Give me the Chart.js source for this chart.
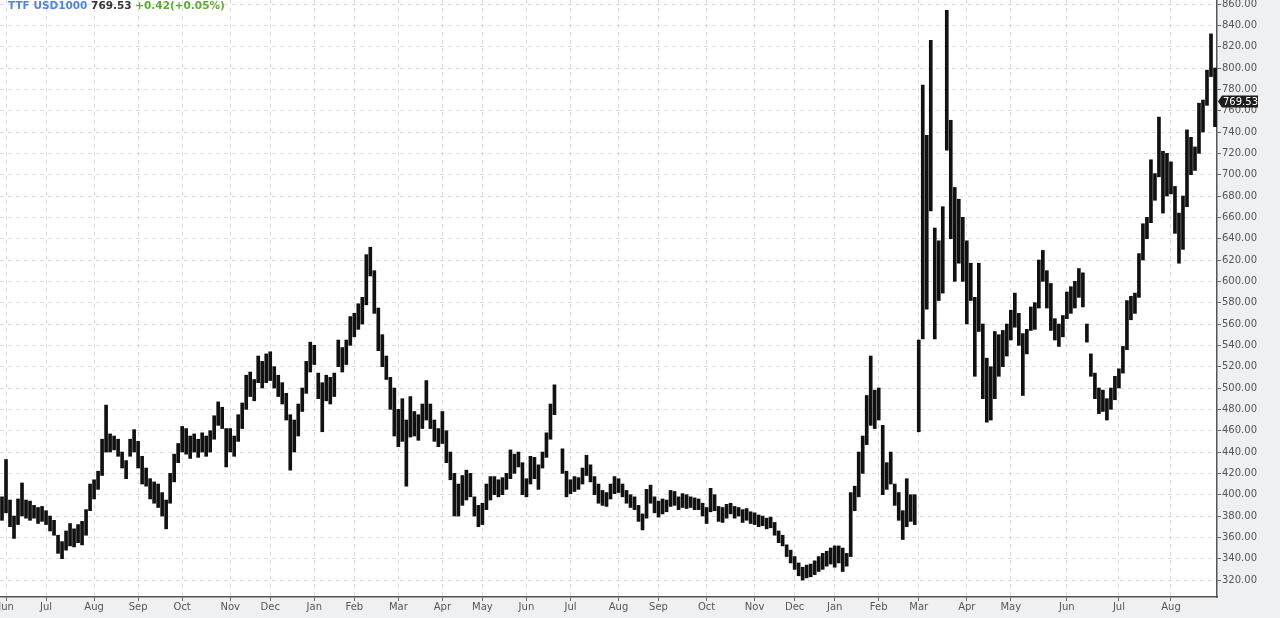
<!DOCTYPE html>
<html>
<head>
<meta charset="utf-8">
<script src="https://cdn.jsdelivr.net/npm/chart.js@4"></script>
<style>
  html, body { margin: 0; padding: 0; background: #eef0f2; overflow: hidden; }
  #c { display: block; }
</style>
</head>
<body>
<canvas id="c" width="1280" height="618"></canvas>
<script>
const symbolName = 'TTF USD1000';
const lastPrice = 769.53;
const changeText = '+0.42(+0.05%)';

const monthLabels = ['Jun','Jul','Aug','Sep','Oct','Nov','Dec','Jan','Feb','Mar','Apr','May','Jun','Jul','Aug','Sep','Oct','Nov','Dec','Jan','Feb','Mar','Apr','May','Jun','Jul','Aug'];
const monthSlots  = [1,11,23,34,45,57,67,78,88,99,110,120,131,142,154,164,176,188,198,208,219,229,241,252,266,279,292];

const yTicks = [320,340,360,380,400,420,440,460,480,500,520,540,560,580,600,620,640,660,680,700,720,740,760,780,800,820,840,860];

const lows = [
 376,383,370,359,372,380,378,376,378,373,
 375,372,366,362,345,340,348,352,351,355,
 353,362,385,396,405,418,440,440,442,436,
 425,415,436,440,425,410,408,396,392,388,
 380,368,392,412,430,440,438,434,440,435,
 440,436,440,452,465,462,426,440,436,450,
 462,480,492,488,505,500,505,507,500,492,
 485,470,423,440,455,478,495,515,522,490,
 459,488,485,492,520,515,522,540,548,555,
 560,578,605,570,535,520,508,480,455,445,
 450,408,454,455,451,462,470,462,450,445,
 448,430,414,380,380,390,395,398,380,370,
 372,386,395,400,398,400,405,415,420,426,
 400,398,410,415,405,425,435,452,475,null,
 420,398,401,403,405,410,418,412,400,392,
 390,389,396,401,402,398,392,388,386,375,
 367,378,392,383,379,382,384,389,390,386,
 388,387,388,386,386,380,373,384,385,375,
 374,378,382,378,380,374,376,373,372,370,
 371,368,369,362,355,352,342,336,330,324,
 320,322,323,325,328,330,333,335,332,336,
 328,333,342,385,398,420,447,465,462,470,
 400,405,410,390,376,358,370,375,372,459,
 546,574,666,546,582,589,723,640,600,617,
 600,560,582,511,553,490,468,470,490,511,
 520,530,545,557,540,493,532,554,555,575,
 600,575,554,545,539,548,565,570,575,585,
 576,543,511,490,476,478,470,480,489,500,
 514,536,564,570,585,620,640,655,676,698,
 664,680,682,645,617,630,670,700,704,720,
 740,765,792,745
];

const highs = [
 398,433,395,380,396,411,395,394,390,388,
 389,385,380,376,362,356,366,373,368,372,
 375,386,410,414,422,452,484,457,455,452,
 440,432,452,461,450,436,425,415,412,410,
 402,395,420,438,448,464,462,455,457,452,
 458,455,460,474,487,482,462,462,455,475,
 486,512,515,508,530,525,532,534,520,512,
 505,495,475,470,485,500,525,543,540,514,
 505,512,510,514,545,538,545,567,570,579,
 585,625,632,610,575,550,530,510,500,480,
 490,470,492,478,475,485,507,485,470,462,
 478,460,440,420,410,418,423,420,398,390,
 392,410,417,417,414,416,420,442,438,440,
 430,415,436,435,428,440,458,485,503,null,
 443,422,414,417,416,425,437,428,417,410,
 404,402,410,417,415,410,404,400,398,390,
 382,405,409,398,394,396,395,404,403,398,
 401,400,398,397,396,392,388,406,400,389,
 388,391,392,389,388,386,387,384,383,381,
 380,378,379,374,366,362,353,348,342,336,
 332,334,335,338,342,345,347,350,352,352,
 350,345,402,408,440,455,493,530,498,500,
 465,430,440,410,402,385,415,400,400,545,
 784,737,826,650,638,670,854,751,688,677,
 660,638,617,585,617,560,528,520,553,550,
 554,560,573,589,570,551,555,576,580,620,
 629,610,598,565,560,568,590,595,600,612,
 608,560,532,514,500,498,490,500,511,518,
 539,582,586,589,626,654,660,714,701,754,
 722,720,712,689,664,680,742,735,726,767,
 770,798,832,800
];

const slotLabels = lows.map((_, i) => i);
const ranges = lows.map((lo, i) => (lo == null || highs[i] == null) ? null : [lo, highs[i]]);

const FONT = '"DejaVu Sans", sans-serif';

const backgroundPlugin = {
  id: 'bg',
  beforeDraw(chart) {
    const { ctx, chartArea: a } = chart;
    ctx.save();
    ctx.fillStyle = '#eef0f2';
    ctx.fillRect(0, 0, chart.width, chart.height);
    ctx.fillStyle = '#ffffff';
    ctx.fillRect(a.left, a.top, a.right - a.left, a.bottom - a.top);
    ctx.restore();
  }
};

const overlayPlugin = {
  id: 'overlay',
  afterDraw(chart) {
    const { ctx } = chart;
    const ys = chart.scales.y;
    const a = chart.chartArea;
    ctx.save();
    ctx.font = 'bold 10.5px ' + FONT;
    ctx.textBaseline = 'middle';
    ctx.textAlign = 'left';
    let x = 8;
    const ty = 6;
    ctx.fillStyle = '#4f86e6';
    ctx.fillText(symbolName, x, ty);
    x += ctx.measureText(symbolName + ' ').width;
    ctx.fillStyle = '#333333';
    ctx.fillText(lastPrice.toFixed(2), x, ty);
    x += ctx.measureText(lastPrice.toFixed(2) + ' ').width;
    ctx.fillStyle = '#5aae2e';
    ctx.fillText(changeText, x, ty);

    const py = Math.round(ys.getPixelForValue(lastPrice)) + 0.5;
    const left = a.right + 1;
    ctx.fillStyle = '#1c1c1c';
    ctx.beginPath();
    ctx.moveTo(left, py);
    ctx.lineTo(left + 4, py - 6);
    ctx.lineTo(left + 40, py - 6);
    ctx.lineTo(left + 40, py + 6);
    ctx.lineTo(left + 4, py + 6);
    ctx.closePath();
    ctx.fill();
    ctx.fillStyle = '#ffffff';
    ctx.font = '10px ' + FONT;
    ctx.fillText(lastPrice.toFixed(2), left + 5, py + 0.5);
    ctx.restore();
  }
};

new Chart(document.getElementById('c'), {
  type: 'bar',
  data: {
    labels: slotLabels,
    datasets: [{
      data: ranges,
      backgroundColor: '#111111',
      borderWidth: 0,
      barThickness: 3,
      grouped: false
    }]
  },
  options: {
    responsive: false,
    animation: false,
    devicePixelRatio: 1,
    layout: { padding: 0 },
    plugins: { legend: { display: false }, tooltip: { enabled: false }, title: { display: false } },
    scales: {
      x: {
        type: 'category',
        offset: true,
        grid: { offset: false, color: '#dedede', lineWidth: 1, drawTicks: true, tickLength: 4, tickColor: '#666666', tickWidth: 1 },
        border: { display: true, color: '#555555', width: 1.5, dash: [4, 4] },
        ticks: {
          autoSkip: false, maxRotation: 0, minRotation: 0, padding: 0,
          color: '#555555', font: { family: FONT, size: 10 },
          callback: (v, i) => monthLabels[i]
        },
        afterBuildTicks: s => { s.ticks = monthSlots.map(v => ({ value: v })); },
        afterFit: s => { s.height = 21; s.paddingLeft = 0; s.paddingRight = 0; }
      },
      y: {
        position: 'right',
        min: 304.1,
        max: 863.75,
        grid: { color: '#dedede', lineWidth: 1, tickLength: 4, tickColor: '#666666', tickWidth: 1 },
        border: { display: true, color: '#555555', width: 1.5, dash: [4, 4] },
        ticks: {
          padding: 1, color: '#555555', font: { family: FONT, size: 10 },
          callback: v => Number(v).toFixed(2)
        },
        afterBuildTicks: s => { s.ticks = yTicks.map(v => ({ value: v })); },
        afterFit: s => { s.width = 63; s.paddingTop = 0; s.paddingBottom = 0; }
      }
    }
  },
  plugins: [backgroundPlugin, overlayPlugin]
});
</script>
</body>
</html>
